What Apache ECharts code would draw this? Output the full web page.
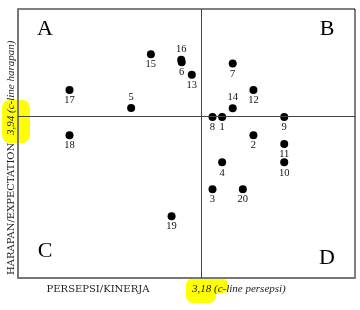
<!DOCTYPE html>
<html><head><meta charset="utf-8">
<script src="https://cdn.jsdelivr.net/npm/echarts@6/dist/echarts.min.js"></script>
<style>html,body{margin:0;padding:0;background:#fff}#c{width:360px;height:310px}</style>
</head><body><div id="c"></div>
<script>
const itemNames = ['1','2','3','4','5','6','7','8','9','10','11','12','13','14','15','16','17','18','19','20'];
const persepsi  = [3.224,3.289,3.204,3.224,3.035,3.140,3.246,3.204,3.353,3.353,3.353,3.289,3.161,3.246,3.076,3.139,2.907,2.907,3.119,3.267];
const harapan   = [3.939,3.878,3.697,3.787,3.969,4.122,4.118,3.939,3.939,3.787,3.848,4.029,4.080,3.968,4.149,4.130,4.029,3.878,3.607,3.697];
const cLinePersepsi = 3.18;
const cLineHarapan = 3.94;
const labelsAbove = ['5','14','16'];
const quadrants = ['A','B','C','D'];

const chart = echarts.init(document.getElementById('c'), null, {renderer:'canvas'});
const serif = '"Liberation Serif","DejaVu Serif",serif';
const wide = '"DejaVu Serif","Liberation Serif",serif';
const data = itemNames.map((n,i)=>({
  name:n, value:[persepsi[i], harapan[i]],
  label:{position: labelsAbove.includes(n)?'top':'bottom'}
}));
chart.setOption({
  animation:false,
  grid:{left:18, top:9, right:5, bottom:32, show:true, borderColor:'#000', borderWidth:1},
  xAxis:{type:'value', min:2.8, max:3.5, axisLine:{show:true, onZero:false, lineStyle:{color:'#777', width:2}},
    axisTick:{show:false}, axisLabel:{show:false}, splitLine:{show:false}},
  yAxis:{type:'value', min:3.4, max:4.3, axisLine:{show:true, onZero:false, lineStyle:{color:'#777', width:2}},
    axisTick:{show:false}, axisLabel:{show:false}, splitLine:{show:false}},
  series:[{
    type:'scatter', symbolSize:8, itemStyle:{color:'#000', opacity:1},
    data:data,
    label:{show:true, formatter:'{b}', fontFamily:serif, fontSize:10.5, color:'#111', distance:1},
    markLine:{silent:true, symbol:'none', label:{show:false},
      lineStyle:{color:'#444', width:1, type:'solid'},
      data:[{xAxis:cLinePersepsi},{yAxis:cLineHarapan}]}
  }],
  graphic:[
    {type:'rect', z:0, shape:{x:2,y:100,width:28,height:43,r:8}, style:{fill:'#ffff00'}},
    {type:'rect', z:0, shape:{x:186,y:278,width:30,height:25,r:7}, style:{fill:'#ffff00'}},
    {type:'rect', z:0, shape:{x:206,y:279,width:22,height:14,r:5}, style:{fill:'#ffff00'}},
    {type:'text', z:10, x:45, y:29, style:{text:quadrants[0], font:'22px '+serif, fill:'#000', align:'center', verticalAlign:'middle'}},
    {type:'text', z:10, x:327, y:29, style:{text:quadrants[1], font:'22px '+serif, fill:'#000', align:'center', verticalAlign:'middle'}},
    {type:'text', z:10, x:45, y:251, style:{text:quadrants[2], font:'22px '+serif, fill:'#000', align:'center', verticalAlign:'middle'}},
    {type:'text', z:10, x:327, y:258, style:{text:quadrants[3], font:'22px '+serif, fill:'#000', align:'center', verticalAlign:'middle'}},
    {type:'text', z:10, x:98, y:289, style:{text:'PERSEPSI/KINERJA', font:'10px '+wide, fill:'#222', align:'center', verticalAlign:'middle'}},
    {type:'text', z:10, x:192, y:289, style:{text:'3,18 (c-line persepsi)', font:'italic 11px '+serif, fill:'#222', align:'left', verticalAlign:'middle'}},
    {type:'text', z:10, x:11, y:275, rotation:Math.PI/2, style:{text:'HARAPAN/EXPECTATION', font:'10px '+wide, fill:'#222', align:'left', verticalAlign:'middle'}},
    {type:'text', z:10, x:11, y:135, rotation:Math.PI/2, style:{text:'3,94 (c-line harapan)', font:'italic 11px '+serif, fill:'#222', align:'left', verticalAlign:'middle'}}
  ]
});
</script></body></html>
